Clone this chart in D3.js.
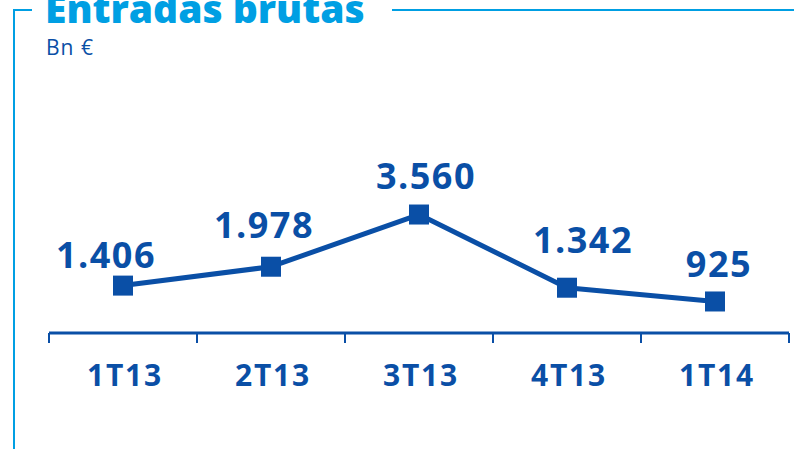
<!DOCTYPE html>
<html>
<head>
<meta charset="utf-8">
<script src="https://cdn.jsdelivr.net/npm/d3@7"></script>
<style>
  body { margin: 0; background: #fff; }
  text { font-family: "Open Sans", sans-serif; }
</style>
</head>
<body>
<svg id="chart" width="794" height="449"></svg>
<script>
var categories = ["1T13", "2T13", "3T13", "4T13", "1T14"];
var values = [1406, 1978, 3560, 1342, 925];
var valueLabels = ["1.406", "1.978", "3.560", "1.342", "925"];
// label nudges (hand placed in the original)
var labelDx = [-18, -8, 6, 15, 3];
var labelDy = [-18, -29, -26, -35, -24];

var light = "#009fe3",
  dark = "#0a4fa6";

var svg = d3.select("#chart");

// frame
svg.append("line").attr("x1", 14).attr("y1", 10).attr("x2", 14).attr("y2", 449)
  .attr("stroke", light).attr("stroke-width", 2);
svg.append("line").attr("x1", 13).attr("y1", 10).attr("x2", 32).attr("y2", 10)
  .attr("stroke", light).attr("stroke-width", 2);
svg.append("line").attr("x1", 392).attr("y1", 10).attr("x2", 794).attr("y2", 10)
  .attr("stroke", light).attr("stroke-width", 2);

svg.append("text")
  .attr("x", 45)
  .attr("y", 23)
  .attr("fill", light)
  .style("font-weight", "800")
  .style("font-size", "39px")
  .text("Entradas brutas");

svg.append("text")
  .attr("x", 46)
  .attr("y", 55)
  .attr("fill", dark)
  .style("font-size", "21px")
  .style("letter-spacing", "1px")
  .text("Bn €");

var xScale = d3.scaleBand().domain(categories).range([49, 789]).padding(0);
var yScale = d3.scaleLinear().domain([0, 4000]).range([332, 200]);

// axis line and boundary ticks
var axisY = 333;
var edges = d3.range(categories.length + 1).map(function (i) {
  return xScale.range()[0] + i * xScale.step();
});
svg.append("line")
  .attr("x1", edges[0]).attr("x2", edges[edges.length - 1])
  .attr("y1", axisY).attr("y2", axisY)
  .attr("stroke", dark).attr("stroke-width", 3);
svg.selectAll(".edge")
  .data(edges)
  .enter()
  .append("line")
  .attr("class", "edge")
  .attr("x1", function (d) { return d; })
  .attr("x2", function (d) { return d; })
  .attr("y1", axisY)
  .attr("y2", axisY + 10)
  .attr("stroke", dark)
  .attr("stroke-width", 2);

var axisGen = d3.axisBottom(xScale).tickSize(0).tickPadding(0);
var axis = svg.append("g")
  .attr("transform", "translate(0," + axisY + ")")
  .call(axisGen);
axis.select(".domain").remove();
axis.selectAll(".tick text")
  .attr("y", 53)
  .attr("dy", 0)
  .attr("x", 2)
  .attr("fill", dark)
  .attr("font-weight", "bold")
  .attr("font-size", 30)
  .style("letter-spacing", "1.8px")
  .style("font-family", "'Open Sans', sans-serif");

var data = categories.map(function (c, i) {
  return { cat: c, value: values[i], label: valueLabels[i], dx: labelDx[i], dy: labelDy[i] };
});

function cx(d) { return xScale(d.cat) + xScale.bandwidth() / 2; }

var line = d3.line()
  .x(cx)
  .y(function (d) { return yScale(d.value); });

svg.append("path")
  .datum(data)
  .attr("fill", "none")
  .attr("stroke", dark)
  .attr("stroke-width", 5)
  .attr("stroke-linejoin", "round")
  .attr("d", line);

svg.selectAll(".marker")
  .data(data)
  .enter()
  .append("rect")
  .attr("class", "marker")
  .attr("x", function (d) { return cx(d) - 10; })
  .attr("y", function (d) { return yScale(d.value) - 10; })
  .attr("width", 20)
  .attr("height", 20)
  .attr("fill", dark);

svg.selectAll(".vlabel")
  .data(data)
  .enter()
  .append("text")
  .attr("class", "vlabel")
  .attr("x", function (d) { return cx(d) + d.dx + 1; })
  .attr("y", function (d) { return yScale(d.value) + d.dy; })
  .attr("text-anchor", "middle")
  .attr("fill", dark)
  .style("font-weight", "bold")
  .style("font-size", "36px")
  .style("letter-spacing", "1.5px")
  .text(function (d) { return d.label; });
</script>
</body>
</html>
